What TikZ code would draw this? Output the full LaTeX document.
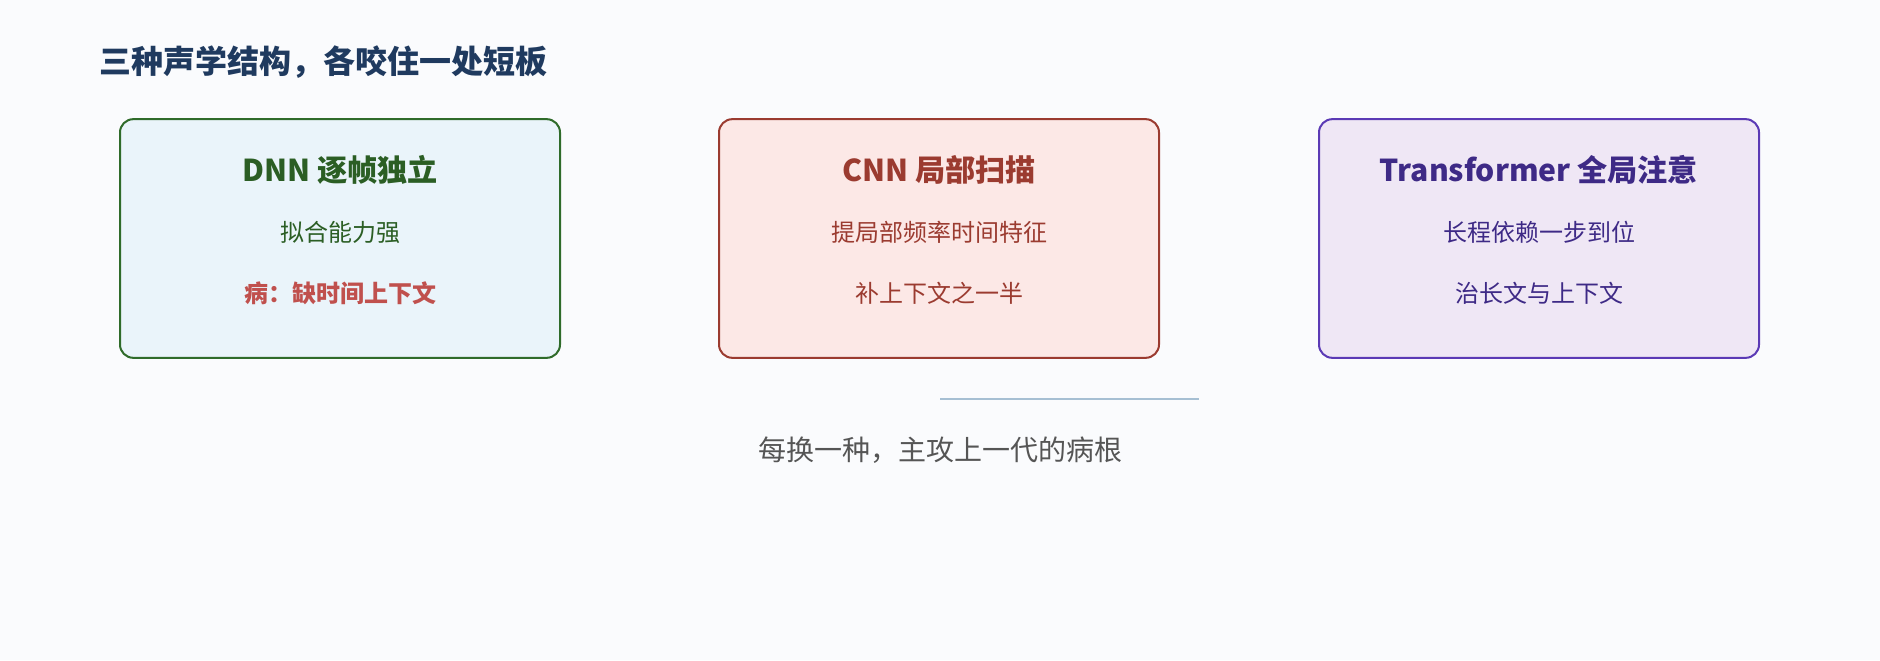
\documentclass[tikz,border=0pt]{standalone}
\usepackage{fontspec}
\setmainfont{Noto Sans CJK SC}
\usepackage{xcolor}
\usepackage{tikz}

\definecolor{pagebg}{HTML}{FAFBFD}
\definecolor{titleblue}{HTML}{1F3A5F}
\definecolor{dnnline}{HTML}{2F6B2A}
\definecolor{dnnfill}{HTML}{EAF4FA}
\definecolor{dnntext}{HTML}{2B5E24}
\definecolor{illred}{HTML}{C0504D}
\definecolor{cnnline}{HTML}{9B3B30}
\definecolor{cnnfill}{HTML}{FCE8E6}
\definecolor{cnntext}{HTML}{9B3B30}
\definecolor{tfline}{HTML}{5B3AB5}
\definecolor{tffill}{HTML}{EFE7F5}
\definecolor{tftext}{HTML}{3E2A86}
\definecolor{rulecol}{HTML}{A6BFD3}
\definecolor{notegray}{HTML}{555555}

\begin{document}
\begin{tikzpicture}[x=0.75pt, y=-0.75pt,
        card/.style={rectangle, rounded corners=10pt, line width=1.5pt,
            minimum width=330pt, minimum height=179pt, inner sep=0pt},
        cardhead/.style={font=\bfseries\fontsize{22.6}{25}\selectfont},
        cardline/.style={font=\fontsize{18}{20}\selectfont},
        cardill/.style={font=\bfseries\fontsize{18}{20}\selectfont, text=illred}]
            \fill[pagebg] (0,0) rectangle (1880,660);

            % Nodes
            \node[anchor=west, text=titleblue, font=\bfseries\fontsize{24}{28}\selectfont] (title) at (95,62) {三种声学结构，各咬住一处短板};

            \node[card, draw=dnnline, fill=dnnfill] (dnn) at (340,238.5) {};
            \node[cardhead, text=dnntext] (dnnhead) at (340,170) {DNN 逐帧独立};
            \node[cardline, text=dnntext] (dnngood) at (340,232) {拟合能力强};
            \node[cardill] (dnnbad) at (340,293) {病：缺时间上下文};

            \node[card, draw=cnnline, fill=cnnfill] (cnn) at (939,238.5) {};
            \node[cardhead, text=cnntext] (cnnhead) at (939,170) {CNN 局部扫描};
            \node[cardline, text=cnntext] (cnngood) at (939,232) {提局部频率时间特征};
            \node[cardline, text=cnntext] (cnnfix) at (939,293) {补上下文之一半};

            \node[card, draw=tfline, fill=tffill] (tf) at (1539,238.5) {};
            \node[cardhead, text=tftext] (tfhead) at (1539,170) {Transformer 全局注意};
            \node[cardline, text=tftext] (tfgood) at (1539,232) {长程依赖一步到位};
            \node[cardline, text=tftext] (tffix) at (1539,293) {治长文与上下文};

            \coordinate (rulea) at (940,399);
            \coordinate (ruleb) at (1199,399);
            \node[text=notegray, font=\fontsize{21}{24}\selectfont] (note) at (940,450) {每换一种，主攻上一代的病根};

            % Edges
            \draw[rulecol, line width=2.2pt] (rulea) -- (ruleb);
        \end{tikzpicture}
\end{document}
